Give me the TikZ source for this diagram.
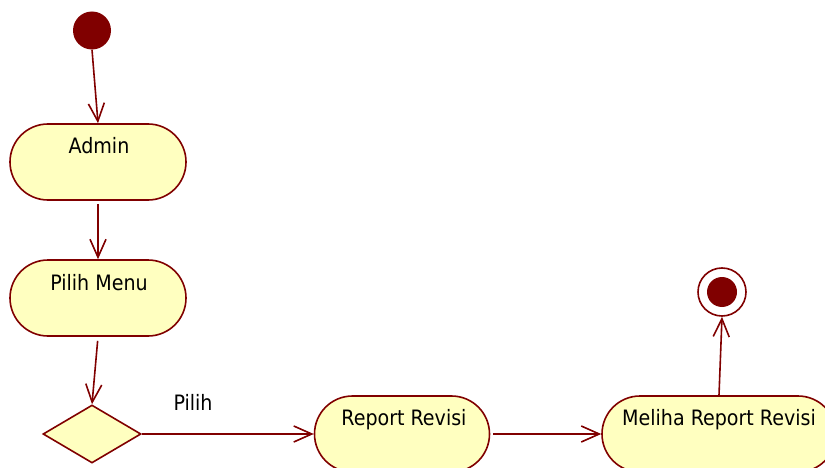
\documentclass[tikz,border=0pt]{standalone}
\usepackage{fontspec}
\setmainfont{DejaVu Sans Condensed}
\usetikzlibrary{shapes.misc,shapes.geometric,arrows.meta}
\definecolor{umlline}{RGB}{128,0,0}
\definecolor{umlfill}{RGB}{255,255,192}
\tikzset{
  action/.style={rounded rectangle, draw=umlline, fill=umlfill, line width=1.6pt,
    minimum height=76pt, inner sep=0pt},
  umltext/.style={font=\fontsize{21.2}{25}\selectfont, text=black},
  actlabel/.style={umltext, anchor=base},
  flow/.style={draw=umlline, line width=1.6pt,
    -{Straight Barb[length=18pt,width=16pt,line width=1.6pt]}},
}
\begin{document}
\begin{tikzpicture}[x=1pt,y=-1pt]
  \useasboundingbox (0,0) rectangle (825,468);
  \clip (0,0) rectangle (825,468);

  % start and end states
  \node (init) [circle, fill=umlline, minimum size=38pt, inner sep=0pt] at (92,30.5) {};
  \node (final) [circle, draw=umlline, line width=1.6pt, fill=white, minimum size=48pt, inner sep=0pt] at (722,292) {};
  \node (finaldot) [circle, fill=umlline, minimum size=30pt, inner sep=0pt] at (final.center) {};

  % actions
  \node (admin) [action, minimum width=176pt] at (98,162) {};
  \node [actlabel] at (99,154) {Admin};
  \node (menu) [action, minimum width=176pt] at (98,298) {};
  \node [actlabel] at (99,290) {Pilih Menu};
  \node (report) [action, minimum width=175pt] at (402,434) {};
  \node [actlabel] at (404,425) {Report Revisi};
  \node (meliha) [action, minimum width=234pt] at (719,434) {};
  \node [actlabel] at (719,425) {Meliha Report Revisi};

  % decision
  \node (dec) [diamond, draw=umlline, fill=umlfill, line width=1.6pt, inner sep=0pt,
    minimum width=98pt, minimum height=58pt] at (92,434) {};

  % flows
  \draw[flow] (init.south) -- (admin.north);
  \draw[flow, shorten <=3pt] (admin.south) -- (menu.north);
  \draw[flow, shorten <=4pt] (menu.south) -- (dec.north);
  \draw[flow] (dec.east) -- node[umltext, pos=0.18, anchor=base west, yshift=24pt, inner sep=0pt] {Pilih} (report.west);
  \draw[flow, shorten <=3pt] (report.east) -- (meliha.west);
  \draw[flow] (meliha.north) -- (final.south);
\end{tikzpicture}
\end{document}
